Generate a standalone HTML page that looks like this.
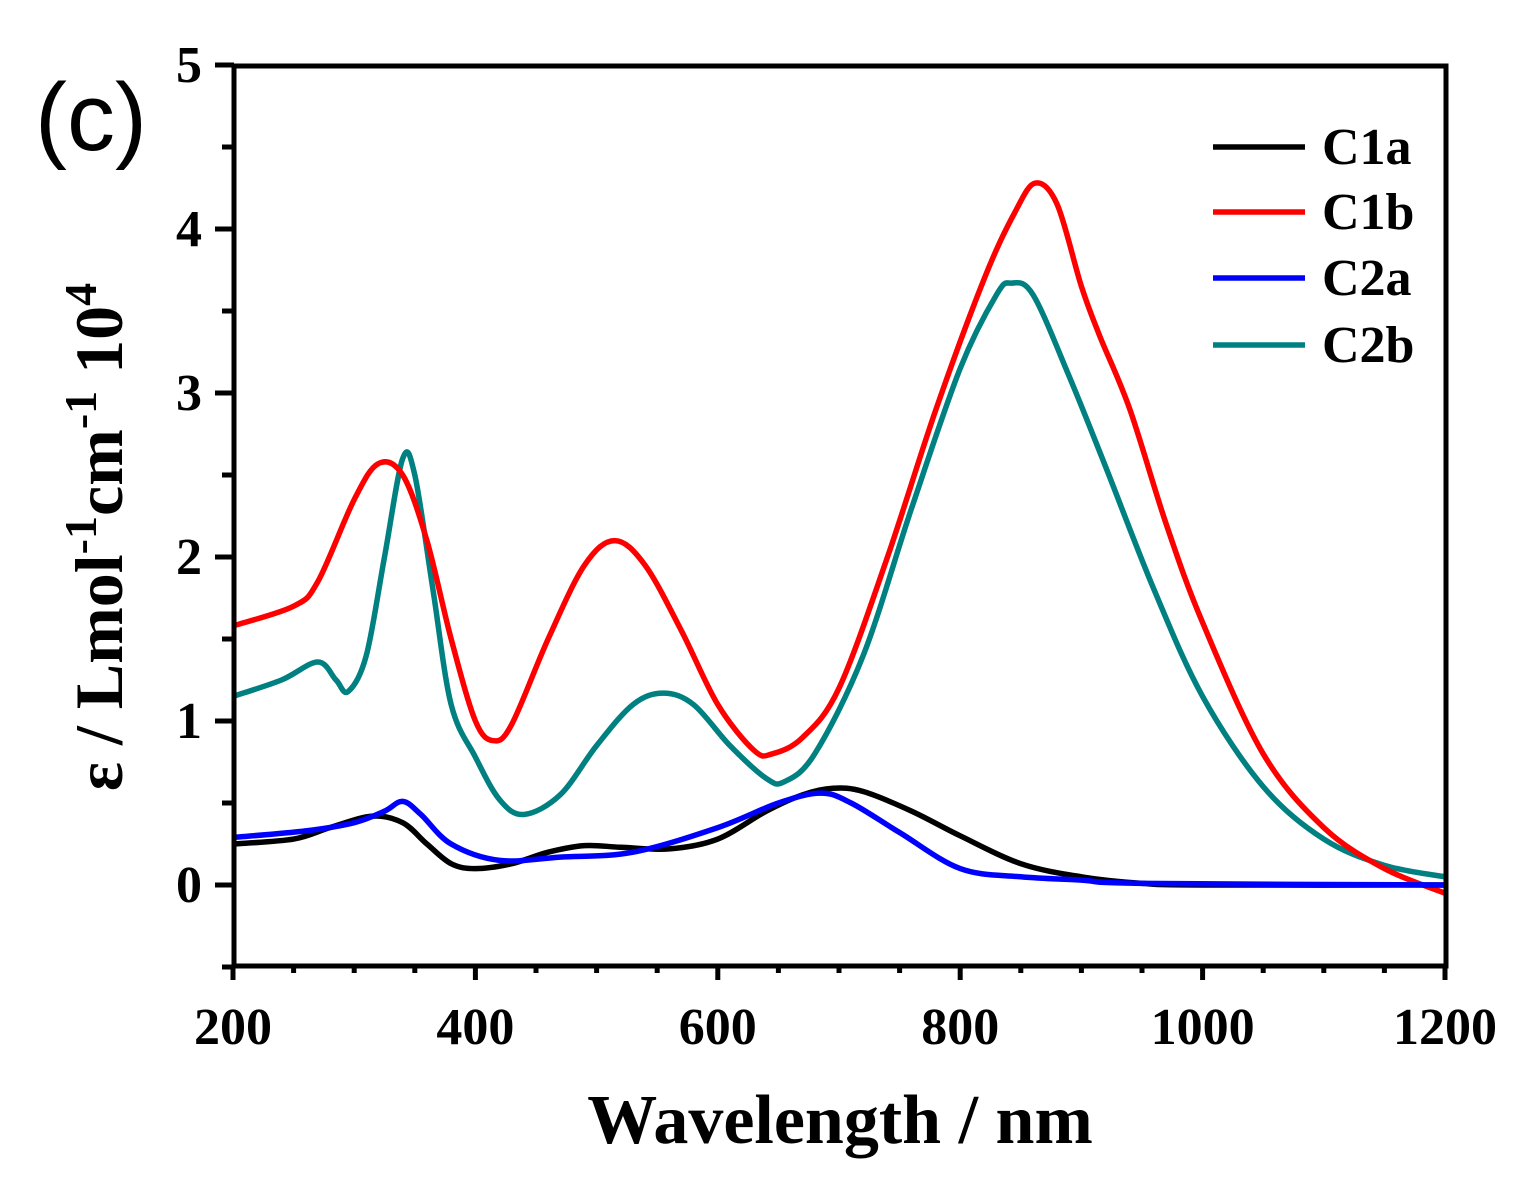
<!DOCTYPE html>
<html><head><meta charset="utf-8"><style>
body{margin:0;background:#fff;}
svg{display:block;}
.t{font-family:"Liberation Serif",serif;font-weight:bold;}
</style></head><body>
<svg id="s" width="1515" height="1185" xmlns="http://www.w3.org/2000/svg">
<rect width="1515" height="1185" fill="#fff"/>
<text x="35" y="150" font-family="Liberation Sans, sans-serif" font-size="96">(c)</text>
<g id="curves" fill="none" stroke-width="5.5" stroke-linejoin="round"></g>
<rect x="234" y="66" width="1212" height="900" fill="none" stroke="#000" stroke-width="5"/>
<g id="ticks" stroke="#000" stroke-width="5"></g>
<g class="t" font-size="52" id="labels"></g>
<text class="t" x="840" y="1143" font-size="70" text-anchor="middle">Wavelength / nm</text>
<text class="t" font-size="68" text-anchor="middle" transform="translate(122,537) rotate(-90)">ε / Lmol<tspan dy="-26" font-size="46">-1</tspan><tspan dy="26">cm</tspan><tspan dy="-26" font-size="46">-1</tspan><tspan dy="26"> 10</tspan><tspan dy="-26" font-size="46">4</tspan></text>
<g stroke-width="5.5">
<line x1="1213" y1="147" x2="1305" y2="147" stroke="#000"/>
<line x1="1213" y1="212" x2="1305" y2="212" stroke="#ff0000"/>
<line x1="1213" y1="278" x2="1305" y2="278" stroke="#0000ff"/>
<line x1="1213" y1="345" x2="1305" y2="345" stroke="#008080"/>
</g>
<g class="t" font-size="52">
<text x="1322" y="164">C1a</text><text x="1322" y="229">C1b</text><text x="1322" y="295">C2a</text><text x="1322" y="362">C2b</text>
</g>
</svg>
<script>
const X=w=>233+(w-200)*1.212, Y=v=>885-v*164;
const NS="http://www.w3.org/2000/svg";
function path(pts){const p=pts.map(a=>[X(a[0]),Y(a[1])]);let d="M"+p[0][0]+","+p[0][1];
for(let i=0;i<p.length-1;i++){const p0=p[i-1]||p[i],p1=p[i],p2=p[i+1],p3=p[i+2]||p2;
d+=" C"+(p1[0]+(p2[0]-p0[0])/6)+","+(p1[1]+(p2[1]-p0[1])/6)+" "+(p2[0]-(p3[0]-p1[0])/6)+","+(p2[1]-(p3[1]-p1[1])/6)+" "+p2[0]+","+p2[1];}return d;}
const data=[
["#008080",[[200,1.15],[240,1.25],[270,1.36],[285,1.25],[295,1.18],[310,1.4],[325,2.0],[340,2.6],[350,2.5],[365,1.8],[380,1.1],[400,0.78],[420,0.52],[440,0.43],[470,0.55],[500,0.85],[530,1.1],[555,1.17],[580,1.1],[610,0.85],[640,0.65],[655,0.63],[680,0.8],[720,1.4],[760,2.3],[800,3.15],[830,3.6],[842,3.67],[860,3.6],[890,3.1],[920,2.55],[960,1.8],[1000,1.15],[1050,0.6],[1100,0.28],[1150,0.12],[1200,0.05]]],
["#ff0000",[[200,1.58],[250,1.7],[270,1.85],[300,2.35],[320,2.57],[340,2.5],[360,2.1],[380,1.5],[400,1.0],[415,0.88],[430,0.98],[460,1.5],[490,1.95],[515,2.1],[540,1.95],[570,1.55],[600,1.1],[630,0.82],[645,0.8],[670,0.9],[700,1.2],[740,2.0],[780,2.9],[820,3.7],[845,4.1],[862,4.28],[880,4.15],[900,3.65],[915,3.35],[940,2.9],[970,2.2],[1000,1.6],[1050,0.8],[1100,0.35],[1150,0.1],[1200,-0.05]]],
["#000",[[200,0.25],[250,0.28],[280,0.35],[315,0.42],[340,0.38],[360,0.25],[380,0.13],[400,0.1],[430,0.13],[460,0.2],[490,0.24],[520,0.23],[560,0.22],[600,0.28],[640,0.45],[670,0.55],[695,0.59],[720,0.57],[760,0.45],[800,0.3],[850,0.13],[900,0.05],[950,0.01],[1000,0],[1200,0]]],
["#0000ff",[[200,0.29],[260,0.33],[300,0.38],[325,0.45],[340,0.51],[355,0.43],[380,0.25],[420,0.15],[470,0.17],[530,0.2],[600,0.35],[650,0.5],[685,0.56],[710,0.5],[750,0.32],[800,0.1],[850,0.05],[900,0.03],[950,0.01],[1200,0]]]];
const g=document.getElementById("curves");
data.forEach(([c,p])=>{const e=document.createElementNS(NS,"path");e.setAttribute("d",path(p));e.setAttribute("stroke",c);g.appendChild(e);});
const tk=document.getElementById("ticks"),lb=document.getElementById("labels");
function line(a,b,c,d){const e=document.createElementNS(NS,"line");e.setAttribute("x1",a);e.setAttribute("y1",b);e.setAttribute("x2",c);e.setAttribute("y2",d);tk.appendChild(e);}
function txt(x,y,s,anc){const e=document.createElementNS(NS,"text");e.setAttribute("x",x);e.setAttribute("y",y);e.setAttribute("text-anchor",anc);e.textContent=s;lb.appendChild(e);}
for(let w=200;w<=1200;w+=50){const x=X(w),maj=w%200==0;line(x,966,x,maj?980:973);if(maj)txt(x,1044,w,"middle");}
for(let v=-0.5;v<=5;v+=0.5){const y=Y(v),maj=Math.abs(v%1)<1e-6;line(234,y,maj?215:222,y);if(maj)txt(202,y+17,v,"end");}
</script>
</body></html>
